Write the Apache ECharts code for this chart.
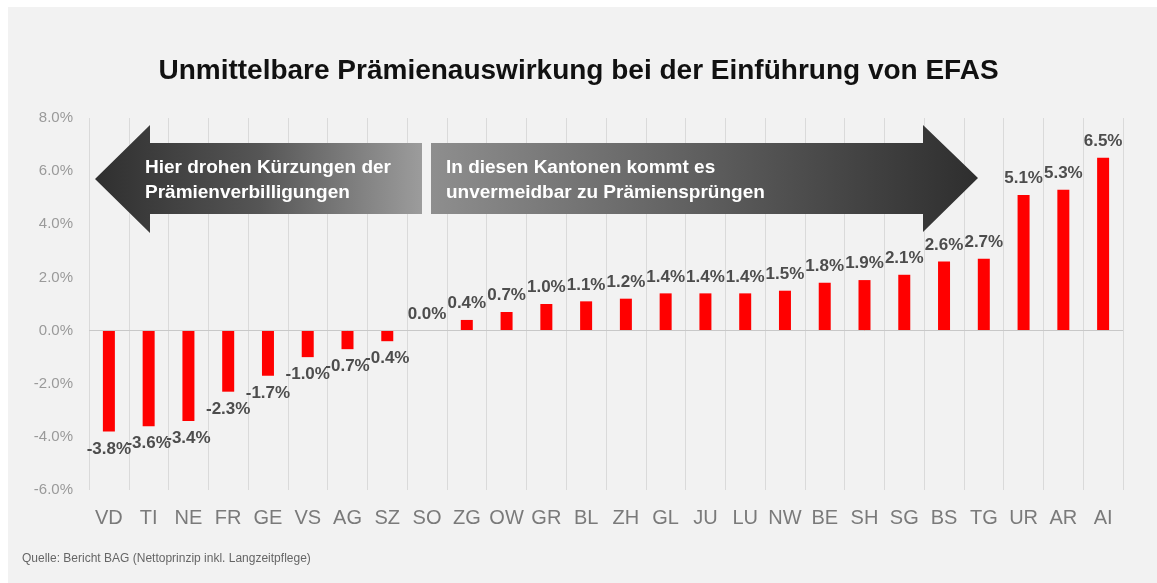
<!DOCTYPE html>
<html>
<head>
<meta charset="utf-8">
<script src="https://cdn.jsdelivr.net/npm/echarts@6/dist/echarts.min.js"></script>
<style>
    html, body { margin: 0; padding: 0; background: #ffffff; }
    #panel { position: absolute; left: 8px; top: 7px; width: 1149px; height: 576px; background: #f2f2f2; }
    #chart { position: absolute; left: 0; top: 0; width: 1157px; height: 583px; }
</style>
</head>
<body>
<div id="panel"></div>
<div id="chart"></div>
<script>
    // Kantone und Prämienauswirkung in %
    var categories = ['VD', 'TI', 'NE', 'FR', 'GE', 'VS', 'AG', 'SZ', 'SO', 'ZG', 'OW', 'GR', 'BL',
        'ZH', 'GL', 'JU', 'LU', 'NW', 'BE', 'SH', 'SG', 'BS', 'TG', 'UR', 'AR', 'AI'];
    var values = [-3.8, -3.6, -3.4, -2.3, -1.7, -1.0, -0.7, -0.4, 0.0, 0.4, 0.7, 1.0, 1.1,
        1.2, 1.4, 1.4, 1.4, 1.5, 1.8, 1.9, 2.1, 2.6, 2.7, 5.1, 5.3, 6.5];
    var yMin = -6;
    var yMax = 8;
    var yStep = 2;

    var leftArrowText = 'Hier drohen Kürzungen der\nPrämienverbilligungen';
    var rightArrowText = 'In diesen Kantonen kommt es\nunvermeidbar zu Prämiensprüngen';

    var myChart = echarts.init(document.getElementById('chart'));

    var barData = values.map(function(v) {
        return {
            value: v,
            label: v < 0 ? { position: 'bottom', distance: 9 } : { position: 'top', distance: 8 }
        };
    });

    var option = {
        animation: false,
        title: {
            text: 'Unmittelbare Prämienauswirkung bei der Einführung von EFAS',
            left: 'center',
            top: 52,
            textStyle: {
                fontFamily: 'Liberation Sans',
                fontSize: 28,
                fontWeight: 'bold',
                color: '#111'
            }
        },
        grid: {
            left: 89,
            right: 34,
            top: 118,
            bottom: 93
        },
        xAxis: {
            type: 'category',
            data: categories,
            axisLine: { show: false },
            axisTick: { show: false },
            splitLine: {
                show: true,
                interval: 0,
                lineStyle: { color: '#dadada', width: 1 }
            },
            axisLabel: {
                interval: 0,
                margin: 18,
                fontFamily: 'Liberation Sans',
                fontSize: 20,
                color: '#7a7a7a'
            }
        },
        yAxis: {
            type: 'value',
            min: yMin,
            max: yMax,
            interval: yStep,
            axisLine: { show: false },
            axisTick: { show: false },
            splitLine: { show: false },
            axisLabel: {
                margin: 16,
                fontFamily: 'Liberation Sans',
                fontSize: 15,
                color: '#9a9a9a',
                formatter: function(v) { return v.toFixed(1) + '%'; }
            }
        },
        series: [{
            type: 'bar',
            data: barData,
            barWidth: 12,
            itemStyle: { color: '#ff0000' },
            label: {
                show: true,
                fontFamily: 'Liberation Sans',
                fontSize: 17,
                fontWeight: 'bold',
                color: '#4d4d4d',
                formatter: function(p) { return p.value.toFixed(1) + '%'; }
            },
            markLine: {
                silent: true,
                symbol: 'none',
                label: { show: false },
                lineStyle: { color: '#c8c8c8', type: 'solid', width: 1 },
                data: [{ yAxis: 0 }]
            }
        }],
        graphic: [
            {
                type: 'polygon',
                z: 10,
                shape: {
                    points: [[95, 179], [150, 125], [150, 143], [422, 143], [422, 214], [150, 214], [150, 233]]
                },
                style: {
                    fill: new echarts.graphic.LinearGradient(0, 0, 1, 0, [
                        { offset: 0, color: '#2f2f2f' },
                        { offset: 0.5, color: '#555555' },
                        { offset: 1, color: '#9c9c9c' }
                    ])
                }
            },
            {
                type: 'polygon',
                z: 10,
                shape: {
                    points: [[431, 143], [923, 143], [923, 125], [978, 178], [923, 232], [923, 214], [431, 214]]
                },
                style: {
                    fill: new echarts.graphic.LinearGradient(0, 0, 1, 0, [
                        { offset: 0, color: '#8e8e8e' },
                        { offset: 0.5, color: '#5e5e5e' },
                        { offset: 1, color: '#2e2e2e' }
                    ])
                }
            },
            {
                type: 'text',
                z: 11,
                left: 145,
                top: 155,
                style: {
                    text: leftArrowText,
                    fill: '#ffffff',
                    fontFamily: 'Liberation Sans',
                    fontSize: 19,
                    fontWeight: 'bold',
                    lineHeight: 25
                }
            },
            {
                type: 'text',
                z: 11,
                left: 446,
                top: 155,
                style: {
                    text: rightArrowText,
                    fill: '#ffffff',
                    fontFamily: 'Liberation Sans',
                    fontSize: 19,
                    fontWeight: 'bold',
                    lineHeight: 25
                }
            },
            {
                type: 'text',
                left: 22,
                top: 553,
                style: {
                    text: 'Quelle: Bericht BAG (Nettoprinzip inkl. Langzeitpflege)',
                    fill: '#666666',
                    fontFamily: 'Liberation Sans',
                    fontSize: 12
                }
            }
        ]
    };

    myChart.setOption(option);
</script>
</body>
</html>
